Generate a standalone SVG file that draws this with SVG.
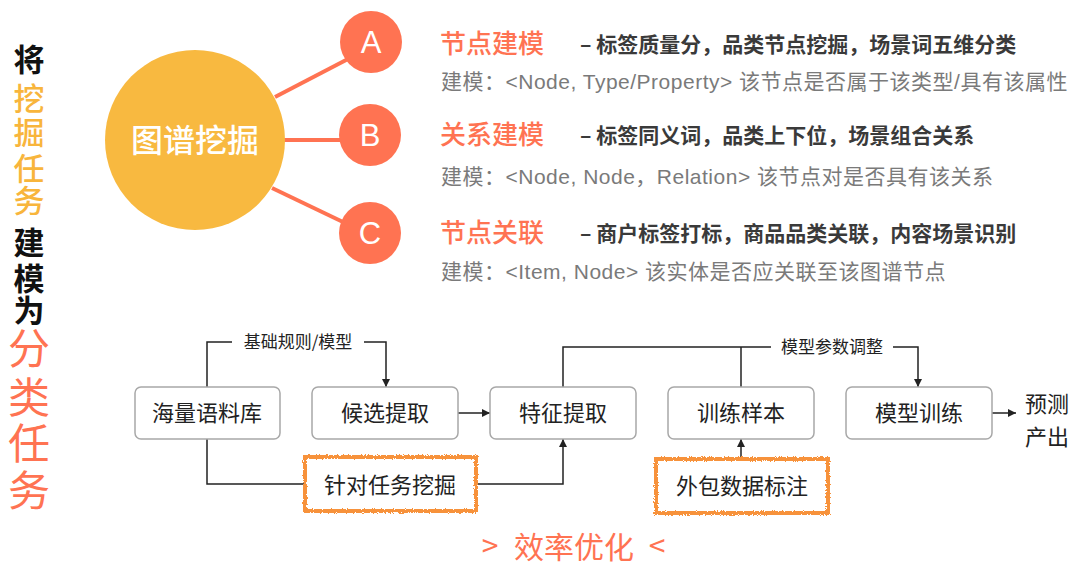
<svg xmlns="http://www.w3.org/2000/svg" width="1080" height="573" viewBox="0 0 1080 573">
<defs>
<style>
.side{font-family:"Noto Sans CJK SC",sans-serif;writing-mode:vertical-rl;text-orientation:upright}
.blk{fill:#111;font-size:31px;font-weight:700}
.yel{fill:#F8B53C;font-size:31px;font-weight:500}
.org{fill:#FF7352;font-size:42px}
.title{font-family:"Noto Sans CJK SC",sans-serif;font-size:26px;fill:#FF7352;font-weight:500}
.sub{font-family:"Noto Sans CJK SC",sans-serif;font-size:21px;fill:#3a3a3a;font-weight:700}
.gray{font-family:"Liberation Sans","Noto Sans CJK SC",sans-serif;font-size:21px;fill:#7a7a7a;letter-spacing:0.5px}
.box{fill:#fff;stroke:#a8a8a8;stroke-width:1.5}
.btxt{font-family:"Noto Sans CJK SC",sans-serif;font-size:22px;fill:#222;text-anchor:middle}
.lbl{font-family:"Noto Sans CJK SC",sans-serif;font-size:17px;fill:#222;text-anchor:middle}
.conn{fill:none;stroke:#222;stroke-width:1.5}
.sk{fill:#fff;stroke:#F7923A;stroke-width:4}
.spoke{stroke:#FF7352;stroke-width:4}
.let{font-family:"Liberation Sans",sans-serif;font-size:31px;fill:#fff;text-anchor:middle}
.foot{font-family:"Noto Sans CJK SC",sans-serif;font-size:30px;fill:#FF7352;text-anchor:middle}
</style>
<marker id="arr" viewBox="0 0 10 10" refX="10" refY="5" markerWidth="8" markerHeight="8" markerUnits="userSpaceOnUse" orient="auto">
<path d="M0,0 L10,5 L0,10 z" fill="#222"/>
</marker>
<filter id="rough" x="-5%" y="-10%" width="110%" height="120%">
<feTurbulence type="fractalNoise" baseFrequency="0.9" numOctaves="2" seed="4" result="n"/>
<feDisplacementMap in="SourceGraphic" in2="n" scale="3.5" xChannelSelector="R" yChannelSelector="G"/>
</filter>
</defs>
<rect width="1080" height="573" fill="#fff"/>

<g id="side-title">
<text class="side" x="29" y="44"><tspan class="blk" y="44">将</tspan><tspan class="yel" y="83">挖</tspan><tspan class="yel" y="117">掘</tspan><tspan class="yel" y="153">任</tspan><tspan class="yel" y="185">务</tspan><tspan class="blk" y="227">建</tspan><tspan class="blk" y="263">模</tspan><tspan class="blk" y="295">为</tspan><tspan class="org" y="327">分</tspan><tspan class="org" y="376">类</tspan><tspan class="org" y="422">任</tspan><tspan class="org" y="469">务</tspan></text>
</g>

<g id="hub-spokes">
<line class="spoke" x1="275" y1="97" x2="348" y2="59"/>
<line class="spoke" x1="284" y1="140" x2="342" y2="140"/>
<line class="spoke" x1="272" y1="188" x2="343" y2="222"/>
</g>

<g id="hub">
<circle cx="195" cy="140" r="90" fill="#F8B940"/>
<text x="195" y="152" font-family="Noto Sans CJK SC, sans-serif" font-size="32" font-weight="500" fill="#fff" text-anchor="middle">图谱挖掘</text>
</g>

<g id="node-a">
<circle cx="371" cy="42" r="31" fill="#FF7352"/>
<text class="let" x="371" y="53">A</text>
<text class="title" x="440" y="53">节点建模</text>
<text class="sub" x="580" y="52">– 标签质量分，品类节点挖掘，场景词五维分类</text>
<text class="gray" x="441" y="89">建模：&lt;Node, Type/Property&gt; 该节点是否属于该类型/具有该属性</text>
</g>

<g id="node-b">
<circle cx="370" cy="135" r="31" fill="#FF7352"/>
<text class="let" x="370" y="146">B</text>
<text class="title" x="440" y="144">关系建模</text>
<text class="sub" x="580" y="143">– 标签同义词，品类上下位，场景组合关系</text>
<text class="gray" x="441" y="184">建模：&lt;Node, Node，Relation&gt; 该节点对是否具有该关系</text>
</g>

<g id="node-c">
<circle cx="370" cy="233" r="31" fill="#FF7352"/>
<text class="let" x="370" y="244">C</text>
<text class="title" x="440" y="242">节点关联</text>
<text class="sub" x="580" y="241">– 商户标签打标，商品品类关联，内容场景识别</text>
<text class="gray" x="441" y="279">建模：&lt;Item, Node&gt; 该实体是否应关联至该图谱节点</text>
</g>

<g id="connectors">
<path class="conn" d="M207,387 V342 H232"/>
<path class="conn" d="M364,342 H386 V387" marker-end="url(#arr)"/>
<path class="conn" d="M207,439 V484 H305"/>
<path class="conn" d="M476,484 H563 V439" marker-end="url(#arr)"/>
<path class="conn" d="M458,413 H490" marker-end="url(#arr)"/>
<path class="conn" d="M563,387 V347 H771"/>
<path class="conn" d="M741,387 V347"/>
<path class="conn" d="M893,347 H918 V387" marker-end="url(#arr)"/>
<path class="conn" d="M741,457 V439" marker-end="url(#arr)"/>
<path class="conn" d="M991,413 H1016" marker-end="url(#arr)"/>
<text class="lbl" x="298" y="348">基础规则/模型</text>
<text class="lbl" x="832" y="353">模型参数调整</text>
</g>

<g id="box-corpus">
<rect class="box" x="135" y="387" width="145" height="52" rx="6"/>
<text class="btxt" x="207" y="421">海量语料库</text>
</g>
<g id="box-candidate">
<rect class="box" x="312" y="387" width="146" height="52" rx="6"/>
<text class="btxt" x="385" y="421">候选提取</text>
</g>
<g id="box-feature">
<rect class="box" x="490" y="387" width="146" height="52" rx="6"/>
<text class="btxt" x="563" y="421">特征提取</text>
</g>
<g id="box-sample">
<rect class="box" x="668" y="387" width="146" height="52" rx="6"/>
<text class="btxt" x="741" y="421">训练样本</text>
</g>
<g id="box-train">
<rect class="box" x="846" y="387" width="146" height="52" rx="6"/>
<text class="btxt" x="919" y="421">模型训练</text>
</g>
<g id="output">
<text class="btxt" x="1047" y="412">预测</text>
<text class="btxt" x="1047" y="445">产出</text>
</g>

<g id="box-mining">
<rect class="sk" x="305" y="457" width="171" height="54" filter="url(#rough)"/>
<text class="btxt" x="390" y="493">针对任务挖掘</text>
</g>
<g id="box-label">
<rect class="sk" x="656" y="459" width="172" height="54" filter="url(#rough)"/>
<text class="btxt" x="742" y="494">外包数据标注</text>
</g>

<g id="footer">
<text class="foot" x="490" y="557">&gt;</text>
<text class="foot" x="574" y="558">效率优化</text>
<text class="foot" x="657" y="557">&lt;</text>
</g>
</svg>
